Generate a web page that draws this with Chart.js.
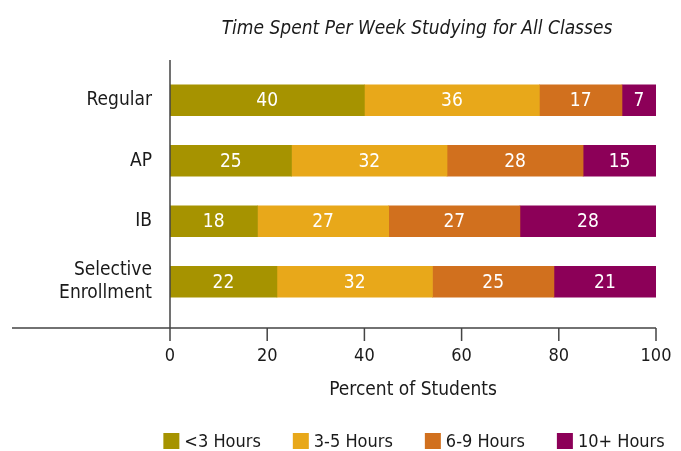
<!DOCTYPE html>
<html>
<head>
<meta charset="utf-8">
<script src="https://cdn.jsdelivr.net/npm/chart.js@4/dist/chart.umd.min.js"></script>
<style>
  html, body { margin: 0; padding: 0; background: #fff; }
</style>
</head>
<body>
<canvas id="chart" width="681" height="451"></canvas>
<script>
// Data
const titleText = 'Time Spent Per Week Studying for All Classes';
const categories = ['Regular', 'AP', 'IB', ['Selective', 'Enrollment']];
const seriesNames = ['<3 Hours', '3-5 Hours', '6-9 Hours', '10+ Hours'];
const under3Hours = [40, 25, 18, 22];
const hours3to5 = [36, 32, 27, 32];
const hours6to9 = [17, 28, 27, 25];
const hours10plus = [7, 15, 28, 21];
const xTickValues = [0, 20, 40, 60, 80, 100];
const xTitle = 'Percent of Students';

const COLORS = ['#a69300', '#e8a81a', '#d1701e', '#8c0058'];
const FONT = '"Liberation Sans Narrow", "Arial Narrow", "DejaVu Sans Condensed", sans-serif';
const TEXT = '#1a1a1a';

// axis lines, tick marks, title, bar labels and legend
const decor = {
  id: 'decor',
  afterDatasetsDraw(chart) {
    const { ctx } = chart;
    ctx.save();
    ctx.fillStyle = '#fff';
    ctx.font = '19px ' + FONT;
    ctx.textAlign = 'center';
    ctx.textBaseline = 'middle';
    chart.data.datasets.forEach((ds, i) => {
      chart.getDatasetMeta(i).data.forEach((bar, j) => {
        const p = bar.getCenterPoint();
        ctx.fillText(String(ds.data[j]), p.x, p.y + 1);
      });
    });
    ctx.restore();
  },
  afterDraw(chart) {
    const { ctx, chartArea, scales: { x } } = chart;
    const axisY = chartArea.bottom + 16;
    const axisX = x.getPixelForValue(0);
    ctx.save();

    ctx.strokeStyle = '#444';
    ctx.lineWidth = 1.5;
    ctx.beginPath();
    ctx.moveTo(axisX, chartArea.top - 10);
    ctx.lineTo(axisX, axisY);
    ctx.moveTo(12, axisY);
    ctx.lineTo(x.getPixelForValue(100), axisY);
    xTickValues.forEach(v => {
      const px = x.getPixelForValue(v);
      ctx.moveTo(px, axisY);
      ctx.lineTo(px, axisY + 13);
    });
    ctx.stroke();

    // title
    ctx.fillStyle = TEXT;
    ctx.font = 'italic 19px ' + FONT;
    ctx.textAlign = 'center';
    ctx.textBaseline = 'alphabetic';
    ctx.fillText(titleText, 417, 34);

    // legend
    ctx.font = '18px ' + FONT;
    ctx.textAlign = 'left';
    const box = 16, gap = 5, itemGap = 32;
    const widths = seriesNames.map(s => box + gap + ctx.measureText(s).width);
    const total = widths.reduce((a, b) => a + b, 0) + itemGap * (seriesNames.length - 1);
    let lx = 414 - total / 2;
    seriesNames.forEach((s, i) => {
      ctx.fillStyle = COLORS[i];
      ctx.fillRect(lx, 433, box, box);
      ctx.fillStyle = TEXT;
      ctx.fillText(s, lx + box + gap, 447);
      lx += widths[i] + itemGap;
    });
    ctx.restore();
  }
};

const datasets = [under3Hours, hours3to5, hours6to9, hours10plus].map((d, i) => ({
  label: seriesNames[i],
  data: d,
  backgroundColor: COLORS[i],
  borderWidth: 0,
  barThickness: 31
}));

new Chart(document.getElementById('chart'), {
  type: 'bar',
  data: { labels: categories, datasets },
  options: {
    indexAxis: 'y',
    responsive: false,
    animation: false,
    devicePixelRatio: 1,
    layout: { padding: { top: 70, right: 25, bottom: 50, left: 0 } },
    plugins: {
      legend: { display: false },
      title: { display: false },
      tooltip: { enabled: false }
    },
    scales: {
      x: {
        stacked: true,
        min: 0,
        max: 100,
        afterBuildTicks: s => { s.ticks = xTickValues.map(v => ({ value: v })); },
        afterFit: s => { s.height = 89; s.paddingLeft = 0; s.paddingRight = 0; },
        grid: { display: false, drawTicks: false },
        border: { display: false },
        ticks: { color: TEXT, font: { family: FONT, size: 18 }, padding: 34, maxRotation: 0 },
        title: {
          display: true,
          text: xTitle,
          color: TEXT,
          font: { family: FONT, size: 19 },
          padding: { top: 11, bottom: 0 }
        }
      },
      y: {
        stacked: true,
        afterFit: s => { s.width = 170; s.paddingTop = 0; s.paddingBottom = 0; },
        grid: { display: false, drawTicks: false },
        border: { display: false },
        ticks: { color: TEXT, font: { family: FONT, size: 19 }, padding: 18 }
      }
    }
  },
  plugins: [decor]
});
</script>
</body>
</html>
